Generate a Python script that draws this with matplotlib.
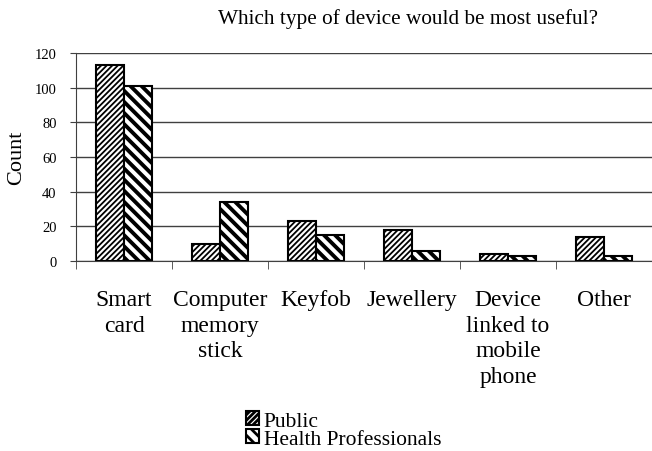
import matplotlib
matplotlib.use('Agg')
import matplotlib.pyplot as plt
import numpy as np

categories = ['Smart\ncard', 'Computer\nmemory\nstick', 'Keyfob', 'Jewellery',
              'Device\nlinked to\nmobile\nphone', 'Other']
public = [113, 10, 23, 18, 4, 14]
health = [101, 34, 15, 6, 3, 3]

plt.rcParams['font.family'] = 'Liberation Serif'

fig = plt.figure(figsize=(6.52, 4.52), dpi=100)
ax = fig.add_axes([0.1166, 0.4204, 0.8834, 0.4601])

x = np.arange(len(categories))
w = 0.29
with plt.rc_context({'hatch.linewidth': 1.3}):
    b1 = ax.bar(x - w / 2, public, w, facecolor='white', edgecolor='black',
                linewidth=1.5, hatch='//////', label='Public', zorder=3)
with plt.rc_context({'hatch.linewidth': 2.8}):
    b2 = ax.bar(x + w / 2, health, w, facecolor='white', edgecolor='black',
                linewidth=1.5, hatch='\\\\\\', label='Health Professionals', zorder=3)

ax.set_xlim(-0.5, len(categories) - 0.5)
ax.set_ylim(0, 120)
ax.set_yticks(range(0, 121, 20))
ax.yaxis.grid(True, color='#404040', linewidth=1)
ax.set_axisbelow(True)
ax.tick_params(axis='y', labelsize=10.5, length=4, pad=10, color='#404040')

ax.set_xticks(x)
ax.set_xticklabels(categories, fontsize=17, va='top', linespacing=1.3)
ax.tick_params(axis='x', length=0, pad=20)
ax.set_xticks(np.arange(-0.5, len(categories), 1), minor=True)
ax.tick_params(axis='x', which='minor', length=6, color='#404040')

for s in ['top', 'right']:
    ax.spines[s].set_visible(False)
ax.spines['left'].set_color('#404040')
ax.spines['bottom'].set_color('#404040')

ax.set_ylabel('Count', fontsize=16)
ax.yaxis.set_label_coords(-0.087, 0.5)
fig.text(0.625, 0.958, 'Which type of device would be most useful?', ha='center',
         va='center', fontsize=15.3)

with plt.rc_context({'hatch.linewidth': 2.0}):
    fig.legend(handles=[b1, b2], loc='center left', bbox_to_anchor=(0.378, 0.0465),
               frameon=False, fontsize=15.5, handlelength=0.6, handleheight=0.6,
               handletextpad=0.2, labelspacing=-0.05, borderpad=0, borderaxespad=0)

fig.savefig('out.png', dpi=100)
